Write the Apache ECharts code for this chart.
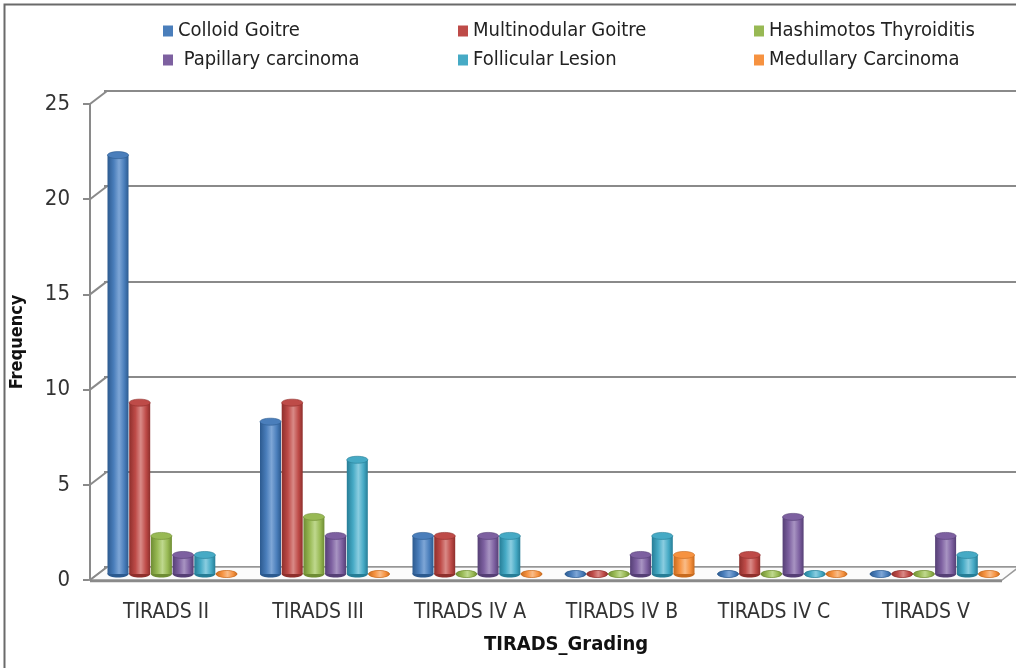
<!DOCTYPE html>
<html>
<head>
<meta charset="utf-8">
<script src="https://cdn.jsdelivr.net/npm/echarts@6/dist/echarts.min.js"></script>
<style>
  html, body { margin: 0; padding: 0; background: #fff; }
  #chart { width: 1016px; height: 668px; }
</style>
</head>
<body>
<div id="chart"></div>
<script>
// Categories and frequencies per diagnosis
const categories = ['TIRADS II', 'TIRADS III', 'TIRADS IV A', 'TIRADS IV B', 'TIRADS IV C', 'TIRADS V'];
const colloidGoitre = [22, 8, 2, 0, 0, 0];
const multinodularGoitre = [9, 9, 2, 0, 1, 0];
const hashimotos = [2, 3, 0, 0, 0, 0];
const papillary = [1, 2, 2, 1, 3, 2];
const follicular = [1, 6, 2, 2, 0, 1];
const medullary = [0, 0, 0, 1, 0, 0];
const yTicks = [0, 5, 10, 15, 20, 25];

const seriesDefs = [
  { name: 'Colloid Goitre', data: colloidGoitre, color: '#4A7EBB', dark: '#2C5A8F', light: '#7EA6D6' },
  { name: 'Multinodular Goitre', data: multinodularGoitre, color: '#BE4B48', dark: '#8E2F2C', light: '#D98A87' },
  { name: 'Hashimotos Thyroiditis', data: hashimotos, color: '#98B954', dark: '#6E8C33', light: '#BFD88E' },
  { name: ' Papillary carcinoma', data: papillary, color: '#7D60A0', dark: '#553F75', light: '#A894C2' },
  { name: 'Follicular Lesion', data: follicular, color: '#46AAC5', dark: '#267D96', light: '#8ACDE0' },
  { name: 'Medullary Carcinoma', data: medullary, color: '#F69240', dark: '#C76A1E', light: '#F9BC88' }
];

// Perspective offsets between the front axis plane and the back wall
const DX = 17, DY = 13;
const FRONT = { left: 87, right: 14, top: 104, bottom: 88 };
const BAR_STEP = 21.7, BAR_W = 21, RY = 3.5;

function cylinder(si, def) {
  return function (params, api) {
    const ci = api.value(0), v = api.value(1);
    const base = api.coord([ci, 0]);
    const top = api.coord([ci, v]);
    const cx = base[0] + (si - 2.5) * BAR_STEP;
    const rx = BAR_W / 2;
    const grad = new echarts.graphic.LinearGradient(0, 0, 1, 0, [
      { offset: 0, color: def.dark },
      { offset: 0.3, color: def.color },
      { offset: 0.55, color: def.light },
      { offset: 0.8, color: def.color },
      { offset: 1, color: def.dark }
    ]);
    const children = [
      { type: 'ellipse', shape: { cx: cx, cy: base[1], rx: rx, ry: RY }, style: { fill: def.dark } }
    ];
    if (base[1] - top[1] > 0.5) {
      children.push({ type: 'rect', shape: { x: cx - rx, y: top[1], width: BAR_W, height: base[1] - top[1] }, style: { fill: grad } });
    }
    children.push({ type: 'ellipse', shape: { cx: cx, cy: top[1], rx: rx, ry: RY }, style: { fill: v > 0 ? def.color : grad, stroke: def.dark, lineWidth: 0.6 } });
    return { type: 'group', children: children };
  };
}

const chart = echarts.init(document.getElementById('chart'), null, { renderer: 'canvas' });

const legendCols = [
  { left: 158, names: [seriesDefs[0].name, seriesDefs[3].name] },
  { left: 453, names: [seriesDefs[1].name, seriesDefs[4].name] },
  { left: 749, names: [seriesDefs[2].name, seriesDefs[5].name] }
];

const option = {
  animation: false,
  textStyle: { fontFamily: 'Liberation Sans Narrow, DejaVu Sans Condensed, Liberation Sans, sans-serif' },
  legend: legendCols.map(c => ({
    left: c.left, top: 16, orient: 'vertical', itemGap: 9,
    icon: 'rect', itemWidth: 10, itemHeight: 11,
    data: c.names,
    textStyle: { fontSize: 20, color: '#222' }
  })),
  grid: [
    // front plane: y axis and category labels
    { left: FRONT.left, right: FRONT.right, top: FRONT.top, bottom: FRONT.bottom },
    // mid depth: cylinders stand here
    { left: FRONT.left + 9, right: FRONT.right - 9, top: FRONT.top - 6, bottom: FRONT.bottom + 6 },
    // back wall: gridlines
    { left: FRONT.left + DX, right: FRONT.right - DX, top: FRONT.top - DY, bottom: FRONT.bottom + DY }
  ],
  xAxis: [
    { gridIndex: 0, type: 'category', data: categories, axisLine: { show: false }, axisTick: { show: false },
      axisLabel: { margin: 22, fontSize: 21, color: '#333' },
      name: 'TIRADS_Grading', nameLocation: 'middle', nameGap: 55,
      nameTextStyle: { fontSize: 20, fontWeight: 'bold', color: '#111', padding: [0, 0, 0, 40] } },
    { gridIndex: 1, type: 'category', data: categories, show: false },
    { gridIndex: 2, type: 'category', data: categories, show: false }
  ],
  yAxis: [
    { gridIndex: 0, type: 'value', min: 0, max: 25, interval: 5,
      axisLine: { show: true, lineStyle: { color: '#8a8a8a', width: 2 } },
      axisTick: { show: true, length: 7, lineStyle: { color: '#8a8a8a', width: 2 } },
      axisLabel: { margin: 20, fontSize: 22, color: '#333' },
      splitLine: { show: false },
      name: 'Frequency', nameLocation: 'middle', nameGap: 64, nameRotate: 90,
      nameTextStyle: { fontSize: 18, fontWeight: 'bold', color: '#111' } },
    { gridIndex: 1, type: 'value', min: 0, max: 25, interval: 5, show: false },
    { gridIndex: 2, type: 'value', min: 0, max: 25, interval: 5,
      axisLine: { show: false }, axisTick: { show: false }, axisLabel: { show: false },
      splitLine: { show: true, lineStyle: { color: '#8a8a8a', width: 2 } } }
  ],
  series: [
    // floor slab between front edge and back wall
    { type: 'custom', name: 'floor', xAxisIndex: 0, yAxisIndex: 0, silent: true, z: 1,
      data: [[0, 0]],
      renderItem: function (params, api) {
        const cs = params.coordSys;
        const y0 = api.coord([0, 0])[1];
        const x0 = cs.x, x1 = cs.x + cs.width;
        return { type: 'group', children: [
          { type: 'polygon', shape: { points: [[x0, y0], [x1, y0], [x1 + DX, y0 - DY], [x0 + DX, y0 - DY]] },
            style: { fill: '#fbfbfb', stroke: '#9a9a9a', lineWidth: 1.5 } },
          { type: 'line', shape: { x1: x0, y1: y0 + 1, x2: x1, y2: y0 + 1 }, style: { stroke: '#8a8a8a', lineWidth: 2.5 } }
        ] };
      } },
    // connectors from front ticks to the back wall gridlines
    { type: 'custom', name: 'connectors', xAxisIndex: 0, yAxisIndex: 0, silent: true, z: 1,
      data: yTicks.map(t => [0, t]),
      renderItem: function (params, api) {
        const cs = params.coordSys;
        const y = api.coord([0, api.value(1)])[1];
        return { type: 'line', shape: { x1: cs.x, y1: y, x2: cs.x + DX, y2: y - DY },
          style: { stroke: '#8a8a8a', lineWidth: 2 } };
      } }
  ].concat(seriesDefs.map((d, i) => ({
    type: 'custom', name: d.name, xAxisIndex: 1, yAxisIndex: 1, z: 3,
    itemStyle: { color: d.color },
    data: d.data.map((v, k) => [k, v]),
    encode: { x: 0, y: 1 },
    renderItem: cylinder(i, d)
  }))),
  graphic: [
    { type: 'rect', left: 2, top: 2, shape: { width: 1100, height: 800 }, style: { fill: 'none', stroke: '#6a6a6a', lineWidth: 2 }, silent: true, z: 0 }
  ]
};

chart.setOption(option);
</script>
</body>
</html>
